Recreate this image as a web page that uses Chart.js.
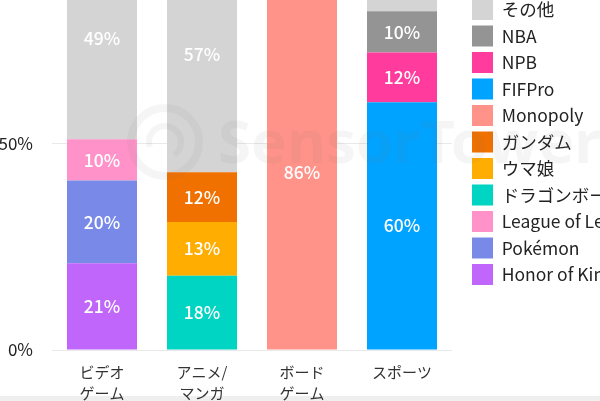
<!DOCTYPE html>
<html>
<head>
<meta charset="utf-8">
<script src="https://cdn.jsdelivr.net/npm/chart.js@4.4.1/dist/chart.umd.min.js"></script>
<style>
    html, body { margin: 0; padding: 0; background: #fff; overflow: hidden; width: 600px; height: 401px; }
    #band { position: absolute; left: 0; bottom: 0; width: 600px; height: 5px; background: #efefef; }
    #wrap { position: absolute; left: 0; top: -120px; width: 620px; height: 524px; }
</style>
</head>
<body>
<div id="band"></div>
<div id="wrap"><canvas id="chart"></canvas></div>
<script>
// categories (x axis)
const categories = [["ビデオ", "ゲーム"], ["アニメ/", "マンガ"], ["ボード", "ゲーム"], ["スポーツ"]];

// share per IP, in %, bottom to top of each stack
const honorOfKings = [21, null, null, null];
const pokemon = [20, null, null, null];
const leagueOfLegends = [10, null, null, null];
const dragonBall = [null, 18, null, null];
const umamusume = [null, 13, null, null];
const gundam = [null, 12, null, null];
const monopoly = [null, null, 86, null];
const fifpro = [null, null, null, 60];
const npb = [null, null, null, 12];
const nba = [null, null, null, 10];
const others = [49, 57, 14, 18];

const yTicks = [0, 50];

Chart.defaults.font.family = "'Noto Sans CJK JP', 'Noto Sans', sans-serif";

function series(label, data, color) {
    return { label: label, data: data, backgroundColor: color, borderWidth: 0 };
}

const datasets = [
    series("Honor of Kings", honorOfKings, "#c066fa"),
    series("Pokémon", pokemon, "#7889e8"),
    series("League of Legends", leagueOfLegends, "#ff93c9"),
    series("ドラゴンボール", dragonBall, "#00d4c2"),
    series("ウマ娘", umamusume, "#ffad00"),
    series("ガンダム", gundam, "#f07100"),
    series("Monopoly", monopoly, "#ff9389"),
    series("FIFPro", fifpro, "#00a3ff"),
    series("NPB", npb, "#ff3c9d"),
    series("NBA", nba, "#949494"),
    series("その他", others, "#d4d4d4")
];

// faint logo behind the labels
const watermark = {
    id: "watermark",
    afterDatasetsDraw(chart) {
        const ctx = chart.ctx;
        ctx.save();
        ctx.strokeStyle = "rgba(110,110,110,0.07)";
        ctx.fillStyle = "rgba(110,110,110,0.07)";
        ctx.lineWidth = 8;
        ctx.beginPath();
        ctx.arc(165, 262, 34, 0, Math.PI * 2);
        ctx.stroke();
        ctx.lineWidth = 6;
        ctx.beginPath();
        ctx.arc(165, 262, 16, Math.PI * 0.9, Math.PI * 2.3);
        ctx.stroke();
        ctx.font = "bold 60px 'Noto Sans'";
        ctx.textBaseline = "alphabetic";
        ctx.fillText("SensorTower", 218, 283);
        ctx.restore();
    }
};

const barLabels = {
    id: "barLabels",
    afterDatasetsDraw(chart) {
        const ctx = chart.ctx;
        ctx.save();
        ctx.fillStyle = "#fff";
        ctx.font = "500 17.5px 'Noto Sans CJK JP'";
        ctx.textAlign = "center";
        ctx.textBaseline = "middle";
        chart.data.datasets.forEach((ds, i) => {
            chart.getDatasetMeta(i).data.forEach((bar, j) => {
                const v = ds.data[j];
                if (!v) return;
                const {x, y, base} = bar.getProps(["x", "y", "base"], true);
                ctx.fillText(v + "%", x, (y + base) / 2);
            });
        });
        ctx.restore();
    }
};

new Chart(document.getElementById("chart"), {
    type: "bar",
    data: { labels: categories, datasets: datasets },
    options: {
        responsive: true,
        maintainAspectRatio: false,
        animation: false,
        layout: { padding: 0 },
        datasets: { bar: { categoryPercentage: 1, barPercentage: 0.7 } },
        scales: {
            x: {
                stacked: true,
                grid: { display: false },
                border: { display: false },
                ticks: { color: "#333", font: { size: 15, lineHeight: 1.4 }, padding: 4, maxRotation: 0, autoSkip: false },
                afterFit: s => { s.height = 54; }
            },
            y: {
                stacked: true,
                min: 0,
                max: 106.7,
                grid: { color: "#e9e9e9", drawTicks: false },
                border: { display: false },
                afterBuildTicks: s => { s.ticks = yTicks.map(v => ({ value: v })); },
                ticks: { padding: 19, color: "#222", font: { size: 17 }, callback: v => v + "%" },
                afterFit: s => { s.width = 52; }
            },
            gap: {
                type: "linear",
                position: "right",
                grid: { display: false },
                border: { display: false },
                ticks: { display: false },
                afterFit: s => { s.width = 14.5; }
            }
        },
        plugins: {
            legend: {
                position: "right",
                reverse: true,
                maxWidth: 153.5,
                labels: { boxWidth: 21, boxHeight: 21, padding: 5.5, color: "#222", font: { size: 17.5 } }
            },
            tooltip: { enabled: false }
        }
    },
    plugins: [watermark, barLabels]
});
</script>
</body>
</html>
